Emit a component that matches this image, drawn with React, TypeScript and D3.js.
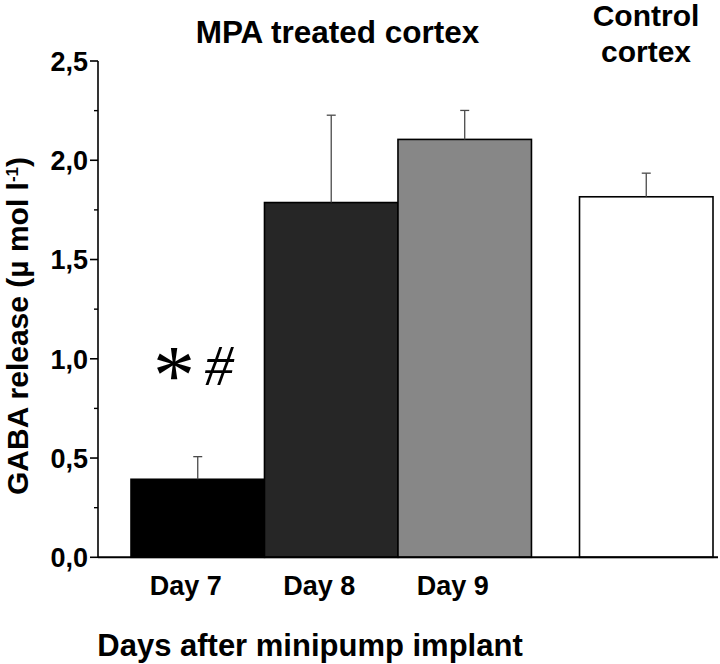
import React from "react";
import * as d3 from "d3";

const categories = ["Day 7", "Day 8", "Day 9", "Control"];
const slots = [0, 1, 2, 3.36];
const means = [0.393, 1.787, 2.105, 1.816];
const sems = [0.114, 0.44, 0.146, 0.119];
const fills = ["#000000", "#262626", "#878787", "#ffffff"];
const majorTicks = [0, 0.5, 1.0, 1.5, 2.0, 2.5];
const minorTicks = [0.25, 0.75, 1.25, 1.75, 2.25];
const tickLabels = ["0,0", "0,5", "1,0", "1,5", "2,0", "2,5"];

const W = 720;
const H = 664;
const FONT = "'Liberation Sans', Arial, Helvetica, sans-serif";
const SERIF = "'Liberation Serif', 'Times New Roman', serif";

export default function App() {
  const y = d3.scaleLinear().domain([0, 2.5]).range([557.3, 61]);
  const x = d3.scaleLinear().domain([0, 4.36]).range([131, 713]);
  const bw = x(1) - x(0);
  const axisX = 98;

  return (
    <svg
      width={W}
      height={H}
      viewBox={`0 0 ${W} ${H}`}
      style={{ position: "absolute", left: 0, top: 0, background: "#fff" }}
    >
      {/* bars */}
      {categories.map((c, i) => (
        <rect
          key={c}
          x={x(slots[i])}
          y={y(means[i])}
          width={bw}
          height={y(0) - y(means[i])}
          fill={fills[i]}
          stroke="#000"
          strokeWidth={1.6}
        />
      ))}
      {/* error bars */}
      {categories.map((c, i) => {
        const cx = x(slots[i]) + bw / 2;
        const top = y(means[i] + sems[i]);
        return (
          <g key={"e" + c} stroke="#4a4a4a" strokeWidth={1.3}>
            <line x1={cx} x2={cx} y1={y(means[i])} y2={top} />
            <line x1={cx - 4.5} x2={cx + 4.5} y1={top} y2={top} />
          </g>
        );
      })}
      {/* baseline */}
      <line x1={axisX} x2={718} y1={y(0)} y2={y(0)} stroke="#000" strokeWidth={2} />
      {/* y axis */}
      <line x1={axisX} x2={axisX} y1={y(2.5)} y2={y(0)} stroke="#000" strokeWidth={1.6} />
      {majorTicks.map((t, i) => (
        <g key={"t" + t}>
          <line x1={axisX - 8} x2={axisX} y1={y(t)} y2={y(t)} stroke="#000" strokeWidth={1.6} />
          <text
            x={axisX - 10}
            y={y(t)}
            dy="0.36em"
            textAnchor="end"
            fontFamily={FONT}
            fontWeight="bold"
            fontSize={27}
          >
            {tickLabels[i]}
          </text>
        </g>
      ))}
      {minorTicks.map((t) => (
        <line key={"m" + t} x1={axisX - 4} x2={axisX} y1={y(t)} y2={y(t)} stroke="#000" strokeWidth={1.4} />
      ))}
      {/* x category labels */}
      {categories.slice(0, 3).map((c, i) => (
        <text
          key={"l" + c}
          x={x(slots[i]) + bw / 2 - 12}
          y={595}
          textAnchor="middle"
          fontFamily={FONT}
          fontWeight="bold"
          fontSize={27}
        >
          {c}
        </text>
      ))}
      {/* x axis title */}
      <text x={310} y={656} textAnchor="middle" fontFamily={FONT} fontWeight="bold" fontSize={31}>
        Days after minipump implant
      </text>
      {/* y axis title */}
      <text
        transform="translate(28,326) rotate(-90)"
        textAnchor="middle"
        fontFamily={FONT}
        fontWeight="bold"
        fontSize={30}
      >
        GABA release (µ mol l
        <tspan fontSize={17} dy={-10}>-1</tspan>
        <tspan dy={10}>)</tspan>
      </text>
      {/* group titles */}
      <text x={337.5} y={43} textAnchor="middle" fontFamily={FONT} fontWeight="bold" fontSize={31.5}>
        MPA treated cortex
      </text>
      <text x={646} y={26} textAnchor="middle" fontFamily={FONT} fontWeight="bold" fontSize={30}>
        Control
      </text>
      <text x={646} y={62} textAnchor="middle" fontFamily={FONT} fontWeight="bold" fontSize={30}>
        cortex
      </text>
      {/* significance marks */}
      <text x={174} y={404} textAnchor="middle" fontFamily={SERIF} fontSize={84}>
        *
      </text>
      <text x={219} y={385} textAnchor="middle" fontFamily={SERIF} fontStyle="italic" fontSize={58}>
        #
      </text>
    </svg>
  );
}
